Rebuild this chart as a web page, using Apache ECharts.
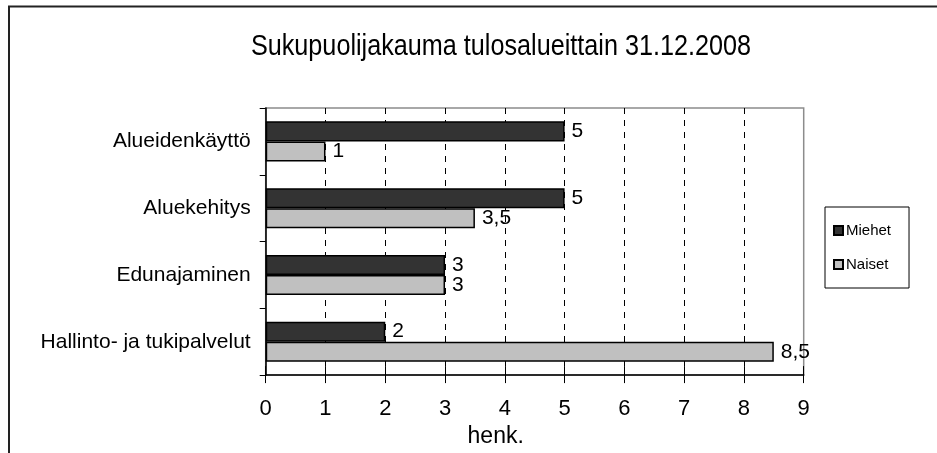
<!DOCTYPE html>
<html>
<head>
<meta charset="utf-8">
<script src="https://cdn.jsdelivr.net/npm/echarts@6/dist/echarts.min.js"></script>
<style>
html,body{margin:0;padding:0;background:#fff;}
#chart{width:937px;height:453px;}
</style>
</head>
<body>
<div id="chart"></div>
<script>
const title = 'Sukupuolijakauma tulosalueittain 31.12.2008';
const categories = ['Alueidenkäyttö', 'Aluekehitys', 'Edunajaminen', 'Hallinto- ja tukipalvelut'];
const seriesNames = ['Miehet', 'Naiset'];
const miehet = [5, 5, 3, 2];
const naiset = [1, 3.5, 3, 8.5];
const axisName = 'henk.';
const xMin = 0, xMax = 9, xStep = 1;

const chart = echarts.init(document.getElementById('chart'), null, {renderer: 'canvas'});
const fmt = p => String(p.value).replace('.', ',');
const barLabel = {show: true, position: 'right', distance: 7, fontSize: 21, color: '#000', fontFamily: 'Liberation Sans', formatter: fmt};

chart.setOption({
  animation: false,
  backgroundColor: '#fff',
  legend: {
    orient: 'vertical', left: 825, top: 207,
    data: seriesNames, icon: 'rect', itemWidth: 9, itemHeight: 9, itemGap: 19,
    padding: [16, 18, 16, 8], borderColor: '#000', borderWidth: 1,
    textStyle: {fontFamily: 'Liberation Sans', fontSize: 15, color: '#000', padding: [0, 0, 0, -2]}
  },
  grid: {
    left: 265.7, top: 108, width: 538, height: 270,
    show: true, borderColor: '#8c8c8c', borderWidth: 1.5, backgroundColor: 'transparent'
  },
  xAxis: [{
    type: 'value', min: xMin, max: xMax, interval: xStep,
    name: axisName, nameLocation: 'middle', nameGap: 46,
    nameTextStyle: {fontFamily: 'Liberation Sans', fontSize: 23, color: '#000', padding: [0, 78, 0, 0]},
    axisLine: {show: true, lineStyle: {color: '#000', width: 1.5}},
    axisTick: {show: true, length: 8, lineStyle: {color: '#000', width: 1}},
    axisLabel: {fontFamily: 'Liberation Sans', fontSize: 22, color: '#000', margin: 23},
    splitLine: {show: true, showMinLine: false, showMaxLine: false, lineStyle: {color: '#000', width: 1, type: [6, 6]}}
  }, {
    type: 'value', min: xMin, max: xMax, interval: xStep, position: 'bottom',
    axisLine: {show: false},
    axisTick: {show: true, inside: true, length: 9, lineStyle: {color: '#000', width: 1}},
    axisLabel: {show: false}, splitLine: {show: false}
  }],
  yAxis: {
    type: 'category', data: categories, inverse: true,
    axisLine: {show: true, lineStyle: {color: '#000', width: 1.5}},
    axisTick: {show: true, length: 6, lineStyle: {color: '#000', width: 1}},
    axisLabel: {fontFamily: 'Liberation Sans', fontSize: 21, color: '#000', margin: 15}
  },
  series: [{
    name: seriesNames[0], type: 'bar', data: miehet, barGap: '0%', barCategoryGap: '40%',
    itemStyle: {color: '#333333', borderColor: '#000', borderWidth: 1.5},
    label: barLabel
  }, {
    name: seriesNames[1], type: 'bar', data: naiset, barGap: '0%', barCategoryGap: '40%',
    itemStyle: {color: '#c0c0c0', borderColor: '#000', borderWidth: 1.5},
    label: barLabel
  }],
  graphic: [
    {type: 'polyline', shape: {points: [[9, 453], [9, 6.5], [937, 6.5]]}, style: {stroke: '#222', lineWidth: 2, fill: null}, silent: true},
    {type: 'text', x: 501, y: 47, scaleX: 0.84, silent: true,
     style: {text: title, align: 'center', verticalAlign: 'middle', fontFamily: 'Liberation Sans', fontSize: 30, fill: '#000'}}
  ]
});
</script>
</body>
</html>
